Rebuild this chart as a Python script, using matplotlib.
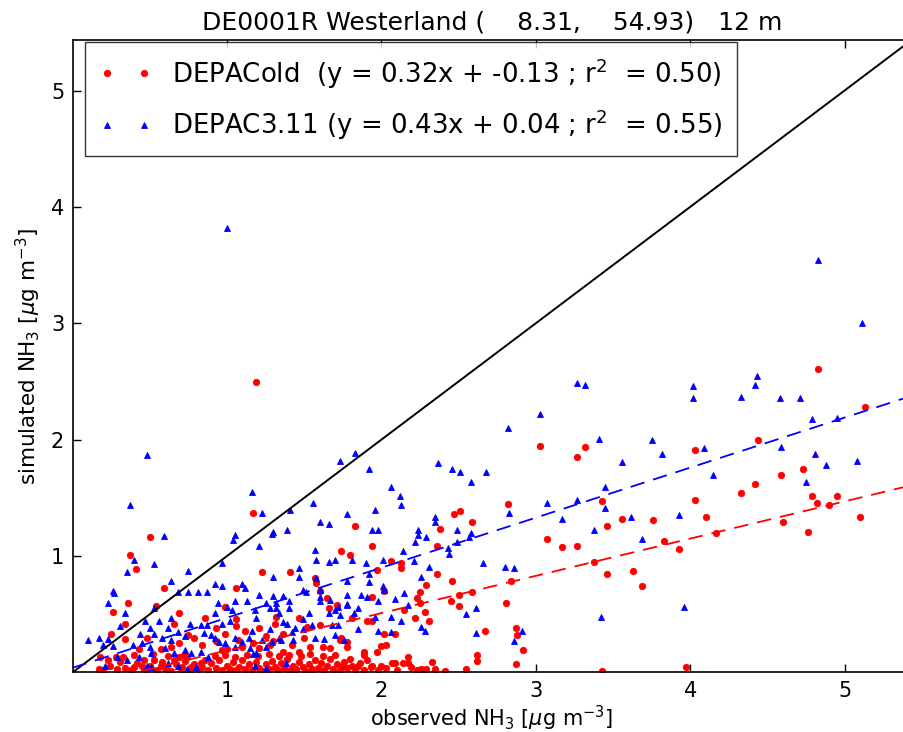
import numpy as np
import matplotlib
matplotlib.use("Agg")
import matplotlib.pyplot as plt

# Station header and regression statistics
station_title = "DE0001R Westerland (    8.31,    54.93)   12 m"
old_label = "DEPACold  (y = 0.32x + -0.13 ; r$^2$  = 0.50)"
new_label = "DEPAC3.11 (y = 0.43x + 0.04 ; r$^2$  = 0.55)"
old_fit = (0.32, -0.13)
new_fit = (0.43, 0.04)
axis_max = 5.43
tick_values = [1, 2, 3, 4, 5]

# (observed, simulated) NH3 pairs, DEPACold
old_sparse = [
    (1.19, 2.50), (4.83, 2.61), (5.13, 2.28), (3.03, 1.95), (3.27, 1.85), (3.32, 1.94),
    (4.03, 1.91), (4.44, 2.00), (4.73, 1.75), (4.59, 1.70), (4.42, 1.62), (4.33, 1.54),
    (4.03, 1.48), (4.79, 1.52), (4.82, 1.46), (4.90, 1.44), (4.95, 1.52), (3.56, 1.32),
    (3.76, 1.31), (4.10, 1.34), (4.60, 1.29), (5.10, 1.34), (4.76, 1.21), (3.83, 1.13),
    (3.93, 1.06), (4.17, 1.20), (3.63, 0.87), (3.69, 0.74), (3.97, 0.05),
]
old_mid = [
    (2.82, 1.45), (2.47, 1.36), (2.51, 1.39), (2.59, 1.29), (1.83, 1.26), (1.94, 1.09),
    (1.74, 1.04), (1.80, 1.01), (2.06, 0.96), (2.13, 0.94), (2.13, 0.90), (1.97, 0.88),
    (2.36, 1.09), (2.38, 1.23), (2.36, 0.85), (2.29, 0.75), (2.46, 0.79), (2.25, 0.69),
    (2.23, 0.64), (2.25, 0.60), (2.50, 0.67), (2.59, 0.69), (2.45, 0.61), (2.50, 0.57),
    (2.81, 0.60), (2.84, 0.79), (2.15, 0.54), (2.28, 0.52), (1.94, 0.65), (1.81, 0.47),
    (1.91, 0.44), (1.94, 0.44), (2.22, 0.47), (2.31, 0.44), (2.09, 0.33), (2.67, 0.36),
    (2.87, 0.38), (2.88, 0.32), (2.92, 0.19), (2.87, 0.07), (2.62, 0.15), (2.62, 0.10),
    (2.55, 0.03), (1.74, 0.30), (1.78, 0.26), (1.78, 0.22), (1.89, 0.18), (1.89, 0.15),
    (1.91, 0.11), (1.94, 0.06), (1.97, 0.18), (2.00, 0.23), (2.03, 0.24), (2.00, 0.06),
    (2.07, 0.08), (2.09, 0.08), (2.14, 0.08), (2.17, 0.08), (2.17, 0.13), (2.26, 0.03),
    (2.29, 0.03), (2.33, 0.09), (1.75, 0.06), (1.81, 0.06), (3.43, 0.01), (3.46, 1.26),
    (3.46, 0.85), (3.38, 0.95), (3.07, 1.15), (3.17, 1.08), (3.27, 1.09), (3.43, 1.47),
    (2.02, 0.70), (2.02, 0.33), (1.85, 0.06),
]
old_low = [
    (0.50, 1.16), (0.37, 1.01), (1.17, 1.37), (0.41, 0.89), (0.59, 0.73), (0.36, 0.60),
    (0.26, 0.52), (0.34, 0.42), (0.69, 0.51), (0.66, 0.42), (0.25, 0.33), (0.34, 0.29),
    (0.48, 0.30), (0.57, 0.20), (0.64, 0.22), (0.69, 0.25), (0.18, 0.13), (0.23, 0.11),
    (0.28, 0.13), (0.33, 0.13), (0.43, 0.20), (0.46, 0.11), (0.53, 0.11), (0.17, 0.03),
    (0.34, 0.04), (0.40, 0.05), (0.45, 0.06), (0.57, 0.06), (0.62, 0.02), (0.69, 0.13),
    (0.74, 0.13), (0.77, 0.05), (0.83, 0.08), (0.86, 0.11), (0.71, 0.05), (0.66, 0.11),
    (1.23, 0.86), (1.41, 0.86), (1.06, 0.73), (1.57, 0.81), (1.58, 0.77), (1.60, 0.70),
    (0.99, 0.56), (1.06, 0.46), (1.31, 0.42), (1.12, 0.36), (1.21, 0.38), (1.47, 0.47),
    (1.60, 0.41), (1.71, 0.58), (1.66, 0.55), (0.93, 0.38), (0.99, 0.33), (1.21, 0.21),
    (1.36, 0.18), (1.42, 0.24), (1.47, 0.18), (1.54, 0.22), (1.67, 0.21), (1.73, 0.28),
    (0.97, 0.19), (1.10, 0.22), (0.54, 0.57), (0.86, 0.47), (1.06, 0.40), (0.75, 0.32),
    (1.65, 0.64), (1.52, 0.39), (1.32, 0.48), (1.28, 0.24),
    (1.00, 0.20), (1.17, 0.25), (1.30, 0.27), (1.50, 0.30), (1.62, 0.22), (1.36, 0.33),
    (1.25, 0.31), (1.07, 0.28), (0.84, 0.24), (0.79, 0.30), (0.93, 0.27),
]
old_floor = [
    (0.20, 0.02), (0.24, 0.06), (0.29, 0.03), (0.31, 0.09), (0.38, 0.02), (0.42, 0.08),
    (0.47, 0.03), (0.50, 0.06), (0.55, 0.02), (0.58, 0.09), (0.60, 0.04), (0.64, 0.01),
    (0.67, 0.07), (0.70, 0.03), (0.73, 0.10), (0.76, 0.02), (0.79, 0.07), (0.81, 0.03),
    (0.84, 0.05), (0.88, 0.02), (0.90, 0.08), (0.93, 0.04), (0.95, 0.11), (0.97, 0.02),
    (1.00, 0.06), (1.02, 0.03), (1.04, 0.09), (1.06, 0.02), (1.08, 0.05), (1.10, 0.11),
    (1.12, 0.03), (1.14, 0.07), (1.16, 0.02), (1.19, 0.09), (1.21, 0.04), (1.23, 0.01),
    (1.25, 0.07), (1.27, 0.03), (1.29, 0.10), (1.31, 0.05), (1.33, 0.02), (1.35, 0.08),
    (1.37, 0.04), (1.39, 0.12), (1.41, 0.02), (1.43, 0.06), (1.45, 0.03), (1.47, 0.09),
    (1.49, 0.05), (1.51, 0.01), (1.53, 0.07), (1.55, 0.03), (1.57, 0.11), (1.59, 0.04),
    (1.61, 0.08), (1.63, 0.02), (1.65, 0.06), (1.67, 0.12), (1.69, 0.03), (1.71, 0.07),
    (1.73, 0.02), (1.76, 0.09), (1.78, 0.04), (1.80, 0.12), (1.83, 0.03), (1.86, 0.08),
    (1.89, 0.02), (1.93, 0.05), (1.98, 0.02), (2.03, 0.04), (2.10, 0.02), (2.19, 0.05),
    (2.23, 0.02), (2.35, 0.03), (2.41, 0.01),
    (0.92, 0.14), (0.99, 0.15), (1.05, 0.13), (1.13, 0.15), (1.20, 0.14), (1.27, 0.16),
    (1.34, 0.14), (1.40, 0.15), (1.48, 0.14), (1.54, 0.16), (1.62, 0.14), (1.70, 0.15),
    (0.62, 0.14), (0.72, 0.15), (0.52, 0.16), (0.40, 0.15),
]

# (observed, simulated) NH3 pairs, DEPAC3.11
new_sparse = [
    (1.00, 3.82), (4.83, 3.54), (5.11, 3.00), (4.02, 2.46), (4.02, 2.36), (4.43, 2.55),
    (4.42, 2.47), (4.33, 2.37), (4.58, 2.36), (4.71, 2.36), (4.79, 2.18), (4.95, 2.19),
    (4.59, 1.94), (4.81, 1.88), (4.88, 1.78), (5.08, 1.82), (4.09, 1.93), (3.75, 2.00),
    (3.82, 1.88), (3.56, 1.81), (4.15, 1.70), (4.75, 1.64), (3.62, 1.34), (3.93, 1.35),
    (3.69, 1.15), (3.96, 0.56), (3.27, 2.49), (3.32, 2.47), (3.03, 2.22), (2.82, 2.10),
    (3.41, 2.01), (0.48, 1.87), (1.16, 1.55), (1.73, 1.82), (1.83, 1.89), (1.92, 1.75),
    (2.37, 1.80), (2.46, 1.75), (2.51, 1.72), (2.68, 1.72), (1.56, 1.46), (1.41, 1.40),
    (1.60, 1.29), (1.66, 1.28), (1.30, 1.21), (1.39, 1.22), (2.22, 1.12), (2.57, 1.16),
    (1.57, 1.05), (1.58, 0.97), (1.70, 0.97), (1.66, 0.95), (1.81, 0.97),
]
new_mid = [
    (2.06, 1.59), (2.12, 1.52), (2.13, 1.44), (1.78, 1.36), (1.96, 1.40), (1.94, 1.22),
    (1.98, 1.22), (2.24, 1.22), (2.24, 1.18), (2.29, 1.16), (2.35, 1.34), (2.35, 1.29),
    (2.49, 1.22), (2.58, 1.20), (2.58, 1.64), (2.83, 1.37), (3.07, 1.46), (3.27, 1.48),
    (3.45, 1.59), (3.45, 1.41), (3.17, 1.32), (3.38, 1.22), (2.14, 1.04), (2.21, 0.96),
    (2.01, 0.97), (1.90, 0.94), (1.92, 0.85), (1.92, 0.78), (2.31, 0.91), (2.26, 0.82),
    (2.43, 1.07), (2.44, 1.02), (2.49, 1.12), (2.66, 0.94), (2.80, 0.91), (2.86, 0.90),
    (2.01, 0.74), (2.02, 0.71), (1.87, 0.67), (1.91, 0.65), (1.78, 0.67), (1.78, 0.58),
    (1.82, 0.51), (1.98, 0.61), (2.09, 0.63), (2.15, 0.68), (2.17, 0.58), (1.85, 0.55),
    (2.06, 0.48), (2.13, 0.44), (1.96, 0.48), (1.85, 0.37), (1.98, 0.36), (2.06, 0.35),
    (2.26, 0.39), (2.28, 0.36), (2.55, 0.50), (2.61, 0.55), (2.61, 0.34), (2.86, 0.27),
    (2.91, 0.36), (3.42, 0.48),
]
new_low = [
    (0.37, 1.44), (0.59, 1.17), (0.40, 0.97), (0.53, 0.93), (1.23, 1.37), (1.05, 1.18),
    (1.04, 1.14), (1.21, 1.09), (0.97, 0.94), (1.29, 1.19),
    (0.35, 0.86), (0.75, 0.87), (0.64, 0.79), (0.26, 0.70), (0.27, 0.68), (0.68, 0.69),
    (0.75, 0.69), (0.81, 0.69), (0.87, 0.69), (0.23, 0.60), (0.34, 0.51), (0.53, 0.55),
    (0.64, 0.47), (0.47, 0.44), (0.56, 0.44), (0.76, 0.42), (0.31, 0.40), (0.50, 0.38),
    (0.62, 0.38), (0.68, 0.35), (0.83, 0.41), (0.87, 0.41), (0.17, 0.30), (0.23, 0.29),
    (0.44, 0.33), (0.53, 0.33), (0.58, 0.30), (0.64, 0.28), (0.73, 0.31), (0.85, 0.34),
    (0.26, 0.23), (0.39, 0.24), (0.45, 0.25), (0.50, 0.22), (0.51, 0.17), (0.60, 0.21),
    (0.66, 0.17), (0.73, 0.19), (0.77, 0.17), (0.43, 0.13), (0.29, 0.13), (0.48, 0.06),
    (0.51, 0.05), (0.62, 0.08), (0.68, 0.06), (0.21, 0.06), (0.35, 0.11), (0.83, 0.18),
    (0.88, 0.13), (0.20, 0.24), (0.10, 0.28),
]
new_center = [
    (1.30, 0.82), (1.47, 0.90), (1.47, 0.82), (1.58, 0.81), (0.92, 0.76), (0.97, 0.74),
    (1.10, 0.76), (1.12, 0.73), (1.49, 0.71), (1.51, 0.69), (1.60, 0.71), (1.60, 0.65),
    (1.78, 0.79), (1.21, 0.67), (1.30, 0.66), (1.36, 0.66), (0.94, 0.60), (1.00, 0.56),
    (1.05, 0.61), (1.13, 0.61), (1.25, 0.60), (1.32, 0.60), (1.40, 0.61), (1.60, 0.61),
    (1.67, 0.62), (1.72, 0.56), (1.18, 0.54), (1.28, 0.55), (1.32, 0.55), (1.34, 0.51),
    (1.40, 0.55), (1.53, 0.51), (1.66, 0.51), (1.70, 0.54), (1.73, 0.49), (1.78, 0.59),
    (0.92, 0.51), (1.03, 0.54), (1.02, 0.44), (0.97, 0.42), (1.19, 0.47), (1.36, 0.43),
    (1.39, 0.42), (1.49, 0.46), (1.55, 0.41), (1.68, 0.41), (1.72, 0.41), (1.16, 0.36),
    (1.28, 0.37), (1.34, 0.30), (1.35, 0.28), (1.42, 0.35), (1.44, 0.38), (1.43, 0.28),
    (1.49, 0.37), (1.14, 0.30), (1.10, 0.26), (0.92, 0.30), (0.95, 0.26), (0.99, 0.25),
    (1.05, 0.30), (1.23, 0.28), (1.25, 0.22), (1.29, 0.26), (1.57, 0.30), (1.63, 0.29),
    (1.70, 0.32), (1.76, 0.28), (1.05, 0.22), (1.15, 0.21), (1.17, 0.16), (1.19, 0.17),
    (0.90, 0.32), (1.18, 0.06), (1.25, 0.04), (0.80, 0.05), (0.74, 0.03), (1.38, 0.08),
]

old_pts = np.array(old_sparse + old_mid + old_low + old_floor)
new_pts = np.array(new_sparse + new_mid + new_low + new_center)

plt.rcParams['font.family'] = ['DejaVu Sans']
plt.rcParams['mathtext.fontset'] = 'dejavusans'

fig = plt.figure(figsize=(9.04, 7.32), dpi=100)
ax = fig.add_axes([0.0802, 0.0813, 0.9275, 0.8634])

ax.plot(old_pts[:, 0], old_pts[:, 1], 'o', color='red', mec='red', ms=4.6,
        mew=0.6, ls='none', label=old_label)
ax.plot(new_pts[:, 0], new_pts[:, 1], '^', color='blue', mec='blue', ms=4.6,
        mew=0.6, ls='none', label=new_label)

xx = np.array([0.0, axis_max])
ax.plot(xx, xx, color='black', lw=1.4)
ax.plot(xx, old_fit[0] * xx + old_fit[1], color='red', lw=1.3, dashes=(8, 5))
ax.plot(xx, new_fit[0] * xx + new_fit[1], color='blue', lw=1.3, dashes=(8, 5))

ax.set_xlim(0, axis_max)
ax.set_ylim(0, axis_max)
ax.set_xticks(tick_values)
ax.set_yticks(tick_values)
ax.tick_params(direction='in', length=6, width=1, top=True, right=True,
               labelsize=15, pad=6)
for sp in ax.spines.values():
    sp.set_linewidth(1.2)

ax.set_title(station_title, fontsize=18, pad=8)
ax.set_xlabel(r"observed NH$_3$ [$\mu$g m$^{-3}$]", fontsize=15, labelpad=2)
ax.set_ylabel(r"simulated NH$_3$ [$\mu$g m$^{-3}$]", fontsize=15.5, labelpad=6)

leg = ax.legend(loc='upper left', bbox_to_anchor=(0.015, 0.998), numpoints=2,
                fontsize=18.7, fancybox=False, borderaxespad=0.0,
                handletextpad=0.8, borderpad=0.55, labelspacing=0.65,
                handlelength=2.0)
leg.get_frame().set_edgecolor('black')
leg.get_frame().set_linewidth(1.0)

fig.savefig("out.png", dpi=100)
